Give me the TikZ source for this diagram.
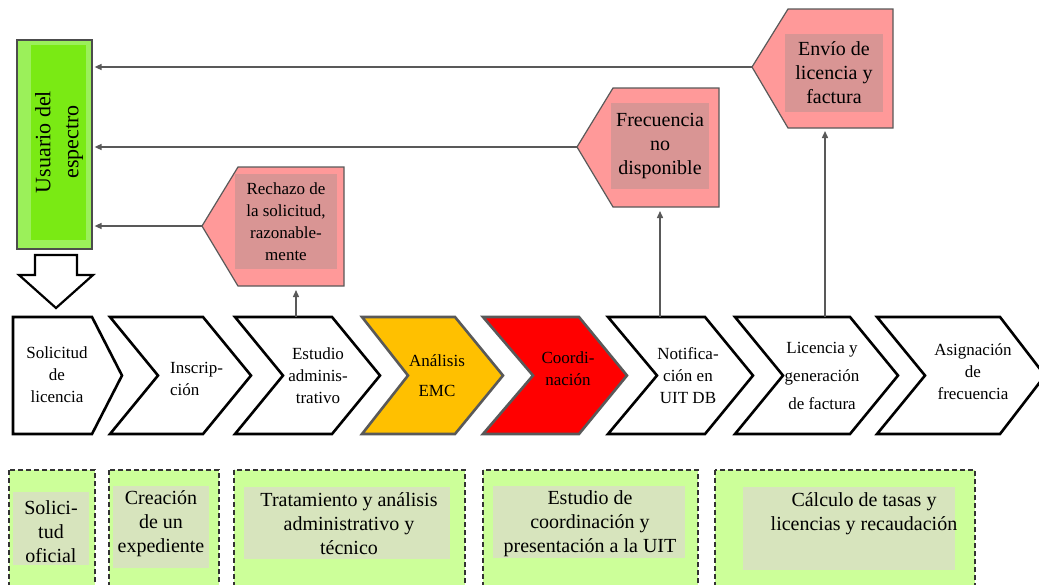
\documentclass[tikz,border=0pt]{standalone}
\usepackage{fontspec}
\setmainfont{Liberation Serif}
\newfontfamily\procfont{Liberation Serif}
\usepackage{tikz}
\usepackage{xcolor}
\usetikzlibrary{
    arrows.meta,
    calc,
    positioning
}
\definecolor{usrout}{HTML}{9BF05A}
\definecolor{usrin}{HTML}{7AEA14}
\definecolor{rejfill}{HTML}{FF9999}
\definecolor{rejin}{HTML}{D99594}
\definecolor{emcfill}{HTML}{FFC000}
\definecolor{coofill}{HTML}{FF0000}
\definecolor{grpout}{HTML}{CCFF99}
\definecolor{grpin}{HTML}{D7E4BD}
\definecolor{arrgray}{HTML}{595959}
\tikzset{
    chevbox/.style={draw=black, line width=2.6pt, fill=white, line join=miter},
    chevcol/.style={draw=arrgray, line width=2.6pt, line join=miter},
    chevtext/.style={font=\procfont\fontsize{17}{22}\selectfont, align=center, inner sep=0pt},
    callout/.style={draw=arrgray, line width=1.2pt, fill=rejfill},
    callin/.style={fill=rejin, inner sep=0pt, align=center},
    flow/.style={draw=arrgray, line width=1.4pt, -{Triangle[length=7pt, width=6pt]}},
    grpbox/.style={draw=black!80, dash pattern=on 5pt off 3pt, line width=1.4pt, fill=grpout},
    grptext/.style={font=\procfont\fontsize{20}{24}\selectfont, align=center, inner sep=0pt}
}

\begin{document}
\begin{tikzpicture}[x=1pt, y=-1pt]
    \useasboundingbox (0,0) rectangle (1039,584);
    \clip (0,0) rectangle (1039,584);

    % user of the spectrum
    \node[draw=black!70, line width=1.2pt, fill=usrout, minimum width=75pt, minimum height=209pt] (usr) at (54.5,144.5) {};
    \fill[usrin] (31,45) rectangle (86,240);
    \node[rotate=90, font=\procfont\fontsize{22}{28}\selectfont, align=center] (usrtxt) at (59,142) {Usuario del\\espectro};
    \draw[line width=2.2pt, line join=miter, fill=white]
        (35,255) -- (77,255) -- (77,275) -- (93,275) -- (56,308) -- (19,275) -- (35,275) -- cycle;

    % process chain
    \begin{scope}[shift={(13,317)}]
        \draw[chevbox] (0,0) -- (79,0) -- (109,58.5) -- (79,117) -- (0,117) -- cycle;
    \end{scope}
    \begin{scope}[shift={(110,317)}]
        \draw[chevbox] (0,0) -- (93,0) -- (141,58.5) -- (93,117) -- (0,117) -- (48,58.5) -- cycle;
    \end{scope}
    \begin{scope}[shift={(235,317)}]
        \draw[chevbox] (0,0) -- (97,0) -- (145,58.5) -- (97,117) -- (0,117) -- (48,58.5) -- cycle;
        \coordinate (est-top) at (61,0);
    \end{scope}
    \begin{scope}[shift={(362,317)}]
        \draw[chevcol, fill=emcfill] (0,0) -- (93,0) -- (141,58.5) -- (93,117) -- (0,117) -- (46,58.5) -- cycle;
    \end{scope}
    \begin{scope}[shift={(483,317)}]
        \draw[chevcol, fill=coofill] (0,0) -- (96,0) -- (144,58.5) -- (96,117) -- (0,117) -- (50,58.5) -- cycle;
    \end{scope}
    \begin{scope}[shift={(608,317)}]
        \draw[chevbox] (0,0) -- (97,0) -- (145,58.5) -- (97,117) -- (0,117) -- (49,58.5) -- cycle;
        \coordinate (not-top) at (52,0);
    \end{scope}
    \begin{scope}[shift={(735,317)}]
        \draw[chevbox] (0,0) -- (115,0) -- (163,58.5) -- (115,117) -- (0,117) -- (48,58.5) -- cycle;
        \coordinate (lic-top) at (90,0);
    \end{scope}
    \begin{scope}[shift={(877,317)}]
        \draw[chevbox] (0,0) -- (123,0) -- (168,58.5) -- (123,117) -- (0,117) -- (48,58.5) -- cycle;
    \end{scope}

    \node[chevtext] (sol) at (57,375) {Solicitud\\de\\licencia};
    \node[chevtext, align=left, anchor=west] (ins) at (170,379) {Inscrip-\\ción};
    \node[chevtext] (est) at (318,376) {Estudio\\adminis-\\trativo};
    \node[chevtext, font=\procfont\fontsize{17}{30}\selectfont] (emc) at (437,376) {Análisis\\EMC};
    \node[chevtext] (coo) at (568,369) {Coordi-\\nación};
    \node[chevtext] (not) at (688,376) {Notifica-\\ción en\\UIT DB};
    \node[chevtext, font=\procfont\fontsize{17}{28}\selectfont] (lic) at (822,376) {Licencia y\\generación\\de factura};
    \node[chevtext] (asg) at (973,372) {Asignación\\de\\frecuencia};

    % returns to the user
    \draw[callout] (202,226) -- (238,167) -- (344,167) -- (344,286) -- (238,286) -- cycle;
    \coordinate (rech-tip) at (202,226);
    \coordinate (rech-bot) at (296,290);
    \node[callin, minimum width=102pt, minimum height=95pt, font=\procfont\fontsize{17}{22}\selectfont] (rech) at (286,221.5) {Rechazo de\\la solicitud,\\razonable-\\mente};

    \draw[callout] (577,147) -- (613,88) -- (719,88) -- (719,207) -- (613,207) -- cycle;
    \coordinate (frec-tip) at (577,147);
    \coordinate (frec-bot) at (660,211);
    \node[callin, minimum width=98pt, minimum height=86pt, font=\procfont\fontsize{20}{24}\selectfont] (frec) at (660,146) {Frecuencia\\no\\disponible};

    \draw[callout] (752,67) -- (788,9) -- (893,9) -- (893,128) -- (788,128) -- cycle;
    \coordinate (envio-tip) at (752,67);
    \coordinate (envio-bot) at (825,131);
    \node[callin, minimum width=98pt, minimum height=78pt, font=\procfont\fontsize{20}{24}\selectfont] (envio) at (834,73) {Envío de\\licencia y\\factura};

    \draw[flow, shorten >=2pt] (rech-tip) -- (rech-tip -| usr.east);
    \draw[flow, shorten >=2pt] (frec-tip) -- (frec-tip -| usr.east);
    \draw[flow, shorten >=2pt] (envio-tip) -- (envio-tip -| usr.east);
    \draw[flow] (est-top) -- (rech-bot);
    \draw[flow] (not-top) -- (frec-bot);
    \draw[flow] (lic-top) -- (envio-bot);

    % phases
    \draw[grpbox] (9,470) rectangle (95,595);
    \fill[grpin] (13,492) rectangle (89,565);
    \node[grptext] (ph1) at (51,532) {Solici-\\tud\\oficial};
    \draw[grpbox] (109,470) rectangle (219,595);
    \fill[grpin] (113,486) rectangle (209,568);
    \node[grptext] (ph2) at (161,524) {Creación\\de un\\expediente};
    \draw[grpbox] (234,470) rectangle (465,595);
    \fill[grpin] (244,487) rectangle (450,559);
    \node[grptext] (ph3) at (349,524) {Tratamiento y análisis\\administrativo y\\técnico};
    \draw[grpbox] (483,470) rectangle (698,595);
    \fill[grpin] (493,486) rectangle (685,558);
    \node[grptext] (ph4) at (590,524) {Estudio de\\coordinación y\\presentación a la UIT};
    \draw[grpbox] (715,470) rectangle (975,595);
    \fill[grpin] (743,487) rectangle (955,570);
    \node[grptext] (ph5) at (864,514) {Cálculo de tasas y\\licencias y recaudación};
\end{tikzpicture}
\end{document}
